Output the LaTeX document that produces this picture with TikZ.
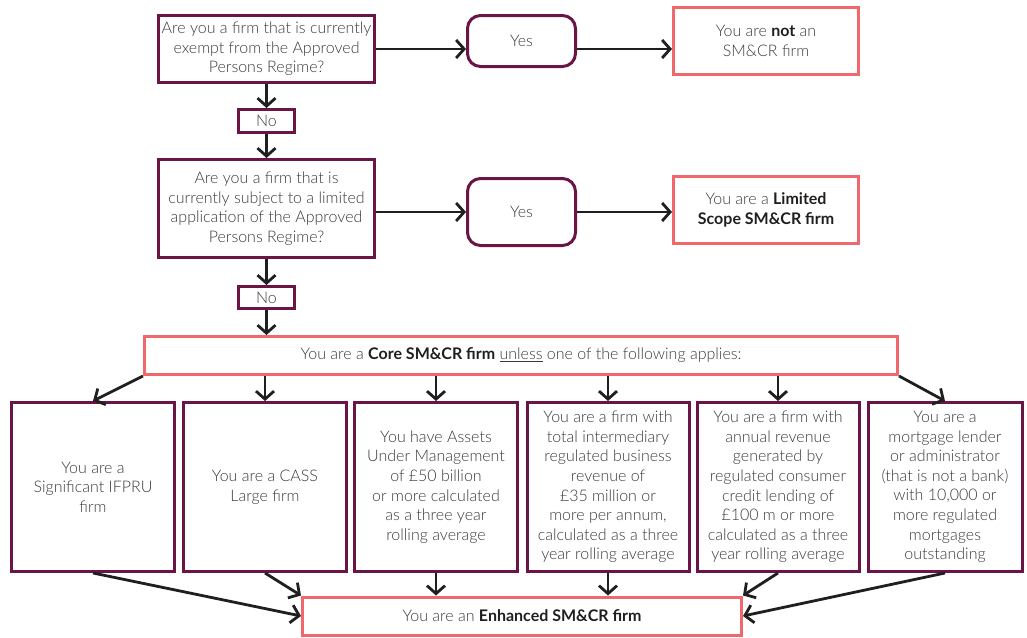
\documentclass[tikz,border=0pt]{standalone}
\usepackage{fontspec}
\IfFontExistsTF{Lato Light}{\setmainfont{Lato Light}[BoldFont=Lato Bold]}{\setmainfont{Lato}}
\usetikzlibrary{arrows.meta}
\definecolor{plum}{HTML}{6B1446}
\definecolor{coral}{HTML}{F0686B}
\definecolor{txt}{HTML}{3A3A3A}
\newcommand\bt[1]{\textbf{\color{black!88}#1}}
\begin{document}
\begin{tikzpicture}[x=1pt,y=-1pt,
  every node/.style={font=\fontsize{16}{19.6}\selectfont, text=txt, align=center, inner sep=0pt},
  qbox/.style={draw=plum, line width=3pt},
  rbox/.style={draw=coral, line width=3pt},
  ybox/.style={draw=plum, line width=3pt, rounded corners=13pt},
  arr/.style={draw=black!88, line width=2.8pt, -{Straight Barb[length=8pt,width=18pt]}}]
\useasboundingbox (0,0) rectangle (1027,637);

\node[qbox, minimum width=216, minimum height=67] (q1) at (266.5,49)
  {Are you a firm that is currently\\exempt from the Approved\\Persons Regime?};
\node[ybox, minimum width=108, minimum height=51] (y1) at (521.5,41) {Yes};
\node[rbox, minimum width=185, minimum height=67] (not) at (766,41)
  {You are \bt{not} an\\SM\&CR firm};
\node[qbox, minimum width=56, minimum height=23] (n1) at (266.5,121) {No};
\node[qbox, minimum width=216, minimum height=98] (q2) at (266.5,208.5)
  {Are you a firm that is\\currently subject to a limited\\application of the Approved\\Persons Regime?};
\node[ybox, minimum width=108, minimum height=67] (y2) at (521.5,212) {Yes};
\node[rbox, minimum width=185, minimum height=67] (lim) at (766,210)
  {You are a \bt{Limited}\\\bt{Scope SM\&CR firm}};
\node[qbox, minimum width=56, minimum height=22] (n2) at (266.5,297.5) {No};
\node[rbox, minimum width=753, minimum height=38] (core) at (521,355.5)
  {You are a \bt{Core SM\&CR firm} \underline{unless} one of the following applies:};

\node[qbox, minimum width=163, minimum height=169] (b1) at (93,487)
  {You are a\\Significant IFPRU\\firm};
\node[qbox, minimum width=163, minimum height=169] (b2) at (265,487)
  {You are a CASS\\Large firm};
\node[qbox, minimum width=163, minimum height=169] (b3) at (436,487)
  {You have Assets\\Under Management\\of £50 billion\\or more calculated\\as a three year\\rolling average};
\node[qbox, minimum width=162, minimum height=169] (b4) at (608,487)
  {You are a firm with\\total intermediary\\regulated business\\revenue of\\£35 million or\\more per annum,\\calculated as a three\\year rolling average};
\node[qbox, minimum width=162, minimum height=169] (b5) at (778,487)
  {You are a firm with\\annual revenue\\generated by\\regulated consumer\\credit lending of\\£100 m or more\\calculated as a three\\year rolling average};
\node[qbox, minimum width=154, minimum height=169] (b6) at (945,487)
  {You are a\\mortgage lender\\or administrator\\(that is not a bank)\\with 10,000 or\\more regulated\\mortgages\\outstanding};
\node[rbox, minimum width=439, minimum height=38] (enh) at (522,616)
  {You are an \bt{Enhanced SM\&CR firm}};

\draw[arr] (q1.east) -- (y1.west |- q1.east);
\draw[arr] (y1.east |- q1.east) -- (not.west |- q1.east);
\draw[arr] (q1.south) -- (n1.north);
\draw[arr] (n1.south) -- (q2.north);
\draw[arr] (q2.east |- y2.west) -- (y2.west);
\draw[arr] (y2.east) -- (lim.west |- y2.east);
\draw[arr] (q2.south) -- (n2.north);
\draw[arr] (n2.south) -- (n2.south |- core.north);

\draw[arr] (core.south west) -- (b1.north);
\foreach \b in {b2,b3,b4,b5}
  \draw[arr] (\b.north |- core.south) -- (\b.north);
\draw[arr] (core.south east) -- (b6.north);

\draw[arr] (b1.south) -- (enh.west);
\draw[arr] (b2.south) -- (enh.north west);
\draw[arr] (b3.south) -- (b3.south |- enh.north);
\draw[arr] (b4.south) -- (b4.south |- enh.north);
\draw[arr] (b5.south) -- (enh.north east);
\draw[arr] (b6.south) -- (enh.east);
\end{tikzpicture}
\end{document}
